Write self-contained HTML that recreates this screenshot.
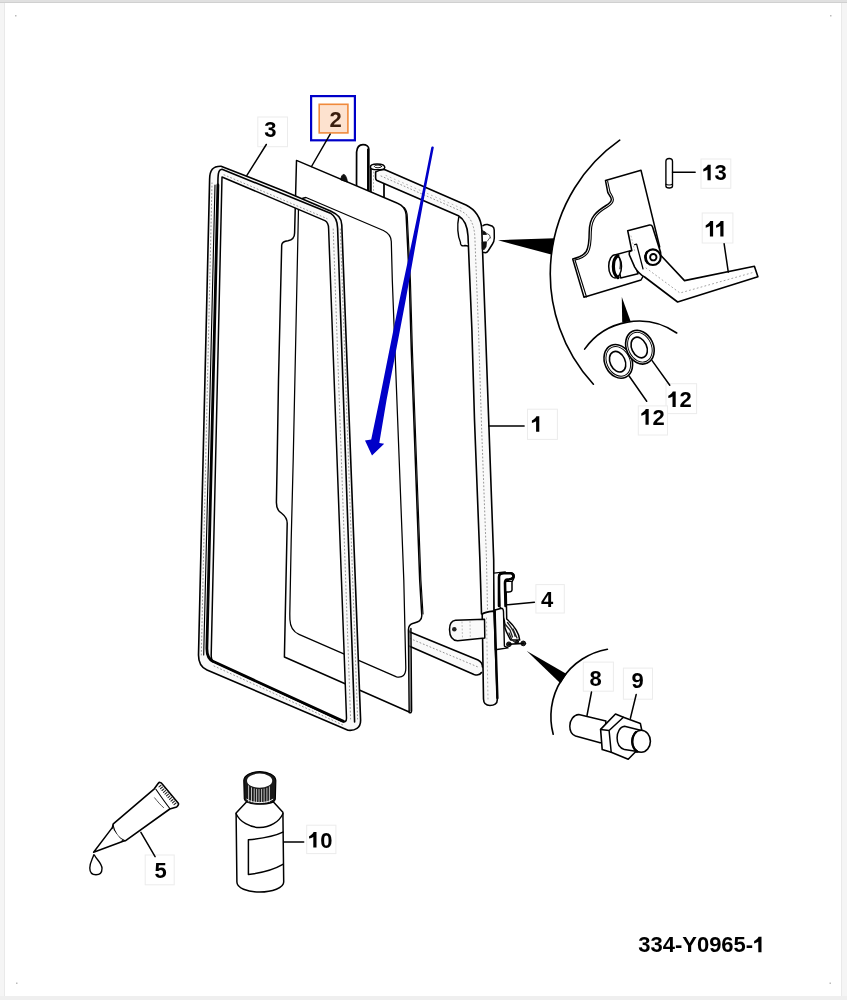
<!DOCTYPE html>
<html><head><meta charset="utf-8">
<style>
html,body{margin:0;padding:0;background:#fff;}
body{width:847px;height:1000px;overflow:hidden;position:relative;font-family:"Liberation Sans",sans-serif;}
svg{position:absolute;left:0;top:0;}
.t{font-family:"Liberation Sans",sans-serif;font-weight:bold;font-size:22px;fill:#000;}
</style></head><body>
<svg width="847" height="1000" viewBox="0 0 847 1000">
<!-- page frame -->
<rect x="0" y="0" width="847" height="1000" fill="#fff"/>
<rect x="0" y="0" width="5" height="1000" fill="#f5f5f5"/>
<rect x="4" y="0" width="1" height="1000" fill="#e9e9e9"/>
<rect x="841" y="0" width="6" height="1000" fill="#f5f5f5"/>
<rect x="841" y="0" width="1" height="1000" fill="#e9e9e9"/>
<rect x="0" y="996" width="847" height="4" fill="#efefef"/>
<rect x="0" y="0" width="847" height="3" fill="#e0e0e0"/>
<rect x="0" y="2" width="847" height="1" fill="#d0d0d0"/>

<!-- ===== LABEL BOXES ===== -->
<g fill="#fff" stroke="#ececec" stroke-width="1">
<rect x="257.8" y="117" width="29.7" height="29.7"/>
<rect x="527.5" y="409.2" width="29.9" height="30.2"/>
<rect x="535.9" y="584.6" width="28.4" height="28.4"/>
<rect x="145.2" y="855" width="29" height="29.8"/>
<rect x="583.3" y="662.1" width="30.1" height="29.1"/>
<rect x="623.4" y="668.1" width="29.1" height="31.1"/>
<rect x="306.7" y="825.2" width="29.2" height="28.4"/>
<rect x="702.2" y="213" width="30.7" height="30"/>
<rect x="701" y="159" width="29.8" height="29.3"/>
<rect x="666" y="383.7" width="30.6" height="29.9"/>
<rect x="638.3" y="405.9" width="29.2" height="29.1"/>
</g>
<rect x="311.1" y="96.1" width="43.8" height="44.2" fill="none" stroke="#0000c8" stroke-width="2.2"/>
<rect x="319.2" y="104.3" width="28.7" height="28.6" fill="#fde2cf" stroke="#f08a3c" stroke-width="1.6"/>
<g fill="#bbb"><rect x="15" y="15" width="1.5" height="1.5"/><rect x="830" y="15" width="1.5" height="1.5"/><rect x="16" y="982.5" width="1.5" height="1.5"/><rect x="829.5" y="982.5" width="1.5" height="1.5"/></g>
<g id="drawing" fill="none" stroke="#000" stroke-width="1.72" stroke-linejoin="round" stroke-linecap="round">
<!-- ===== FRAME 1 (metal) back parts ===== -->
<!-- rod -->
<path d="M356.5,195 L356.6,152 C357,147 359.5,144.6 363,144.6 C366.5,144.6 368.8,146.5 368.8,149 L368.8,195 Z" fill="#fff"/>
<path d="M367.6,149 L367.6,195" stroke-width="1.15"/>
<!-- post -->
<path d="M370.9,167 L370.9,198 L384,198 L384,168" fill="#fff"/>
<path d="M373.5,172 L373.5,196" stroke="#999" stroke-width="0.8" stroke-dasharray="1 2.5"/>
<path d="M370.4,167 C370.4,164.5 373,164 377,164 C381,164 384.8,164.6 384.8,167.5 C384.8,169 383,169.8 377,169.8 C372,169.8 370.4,169 370.4,167 Z" fill="#fff" stroke-width="1.49"/>
<ellipse cx="378" cy="166.4" rx="3.6" ry="1.4" stroke-width="0.92"/>
<!-- top tube + right vertical -->
<path d="M375.6,172 L384.5,169.5 L466,205 C474,209 481,216 481.8,229.5 L485.5,330 L488.9,425.9 L493.7,560 L494,611 L482,614 L479.9,560 L474.5,420 L471.9,330 L468,236 C467.5,226 464,219 458.4,215.7 L377,180.5 C376,180 375.6,179.5 375.6,178 Z" fill="#fafafa" stroke="none"/>
<path d="M381,176 L462,211.5 C470,216 474,224 474.8,236 L478.5,330 L481.5,425 L486.5,560 L487.5,610" stroke="#8a8a8a" stroke-width="0.9" stroke-dasharray="1 2.6" fill="none"/>
<path d="M386,175.5 L463,209" stroke="#aaa" stroke-width="0.8" stroke-dasharray="1 3.5" fill="none"/>
<path d="M384.5,169.5 L466,205 C474,209 481,216 481.8,229.5 L485.5,330 L488.9,425.9 L493.7,560 L494,611" stroke-width="1.61"/>
<path d="M375.6,172 L375.6,178 C375.6,179.5 376,180 377,180.5 L458.4,215.7 C464,219 467.5,226 468,236 L471.9,330 L474.5,420 L479.9,560 L481.5,614" stroke-width="1.61"/>
<path d="M375.6,172 C378,170.5 381,169.8 384.5,169.5" stroke-width="1.38"/>
<!-- hinge piece behind tube -->
<path d="M458.7,217.5 C457,225 457.5,236 460.5,242.5 C460,245 462,246.5 465,245.5 L468,246" fill="#fff" stroke-width="1.38"/>
<!-- hinge bracket right -->
<path d="M483,225.7 C484.5,224.6 486,224.3 487.5,224.5 L492.5,226.3 C493.8,227.3 494.2,228.5 494.2,230 L494.3,238 C494.2,240.5 493.6,242.5 492.5,244 L488.4,250.5 C487.5,251.8 486.5,252.7 485.4,252.8 L483,252.2" fill="#fff" stroke-width="1.5"/>
<path d="M482.2,230.5 L485.3,232 L486.5,234.5 L483,234.5 Z M482.5,242 L486.5,241.8 L486,247 L484,249.8 L482.5,249.5 Z" fill="#111" stroke="#111" stroke-width="0.8"/>
<path d="M486,233 L489.5,235 L490.5,238 M487.5,241 L490,237.5" stroke-width="0.9" stroke="#444"/>
<!-- bottom tube -->
<path d="M405,630 L478,660 C482,662 483,666 482,670 C481,674 478,675.5 474,674.5 L405,646 Z" fill="#fafafa" stroke="none"/>
<path d="M410,638.5 L478,667" stroke="#8a8a8a" stroke-width="0.9" stroke-dasharray="1 2.6" fill="none"/>
<path d="M405,630 L478,660 C481,661.5 482.5,664 482.5,667" stroke-width="1.61"/>
<path d="M405,644.3 L474,674.5 C477,675.5 480,675 481.5,672.5" stroke-width="1.61"/>
<!-- lower vertical piece -->
<path d="M482.2,614 C485,612 490,611.5 494,611 L497.3,699.5 C497.4,704 494,705.5 490,705.5 C486,705.5 483.6,703.5 483.5,699 Z" fill="#fafafa" stroke-width="1.6"/>
<path d="M486.5,618 L488,700" stroke="#999" stroke-width="0.8" stroke-dasharray="1 3"/>
<!-- bracket arm -->
<path d="M484.5,619.2 L455.5,620.3 C451.5,620.8 449.5,624 449.5,629.5 C449.6,636 452,640.5 457.6,640.7 L484.8,637.9 Z" fill="#fafafa" stroke-width="1.5"/>
<circle cx="454.3" cy="629.2" r="2.3" fill="#222" stroke="none"/>
<path d="M462,622 L462.5,638 M470,621.5 L470.3,638" stroke="#aaa" stroke-width="0.8" stroke-dasharray="1 2.5"/>
<!-- latch 4 -->
<path d="M493.8,573.2 L505.3,571.8 L505.5,609 L494.2,610 Z" fill="#fff" stroke-width="1.3"/>
<path d="M498.8,577 C498.8,574 500.5,572.9 503,572.8 L510.7,572.7 C513.5,573 514.6,575 514,577.5 C513.5,579.5 512.3,580.5 512,582 L512,590 C511.8,591.8 510,592.2 508,592.1 L506.2,592 L506.7,619 C509,621 513,624.5 516.1,629.9 C518,633 519.3,636.5 519.7,640 L510.7,640 C509,636.5 506.5,633 505,628 L504.4,620.9 L499.9,606.4 Z" fill="#fff" stroke-width="1.5"/>
<path d="M499,606 L499,577 C499,574.5 501,573.3 504,573.3 L510.5,573.3 C513,573.6 513.8,575.5 513.2,577.3 C512.4,579 510,579.6 507.5,579.6 C505.5,579.7 505,581 505,583 L505.5,606" stroke-width="2.6"/>
<path d="M506.3,581.5 L511.8,581.5" stroke-width="1.2"/>
<path d="M495,610 L501.7,608.2 C503,608.6 503.5,610 503.5,611.8 L504.4,646.1 L508,647.9 L495.4,649.7 Z" fill="#fbfbfb" stroke-width="1.4"/>
<path d="M505,624 L510,630 L512.5,637 M507.5,622.5 C511,627 514,631 515,636 M509,633 L512,640 L516,643 M513,629 L517,638" stroke-width="1.3" stroke="#222"/>
<circle cx="508.9" cy="644.3" r="2.4" fill="#222" stroke-width="0.9"/>
<circle cx="517" cy="641.8" r="1.5" fill="#222" stroke-width="0.9"/>
<circle cx="523.3" cy="643.4" r="2.4" fill="#222" stroke-width="0.9"/>
<path d="M508.9,644.3 L523.3,643.4" stroke-width="1.6"/>
<path d="M494.6,611 L497.4,698" stroke-width="2.4"/>

<!-- ===== SHEET A (outer glass) ===== -->
<path d="M296.5,160.4 L397.5,203.3 Q405.3,206.3 406.1,214.5 L409.3,280 L411.3,350 L419.7,580 L421.8,615.5 C422,621 418,622 413.3,623.3 C409,624.5 408.4,627 408.4,630 L409.2,712 L284.4,657 L287.2,523.2 C287.2,516 282,514 279.2,511.2 C276.8,508.5 276.4,505 276.4,502.4 L277.2,460 L278.5,380 L281.7,245 C282,242 285,241 288,240.7 C292,240 294.6,238 294.6,233 Z" fill="#fff" stroke-width="1.49"/>
<path d="M404.3,207.6 Q407,210.5 407.3,216.5 L410.4,280 L412.4,350 L420.9,580 L423,614" stroke-width="1.15"/>
<path d="M410.9,628.5 L411.6,710.5 C411.6,712.5 410.6,713.3 409.2,712.5" stroke-width="1.5"/>
<path d="M409.7,630 L410.3,711" stroke-width="1" stroke="#555"/>
<!-- small clip on top edge -->
<path d="M340.8,179.6 C341,176.5 342.3,174.3 343.8,174.4 C345.3,174.6 346.8,177.5 347.4,181.6 Z" fill="#111" stroke-width="0.8"/>

<!-- ===== SHEET B (inner glass) ===== -->
<path d="M298.5,206 Q299,198 306,197.5 L383.4,230.5 Q391,234 391.3,241.5 L392.3,280 L394,324.6 L403.8,580 L405.8,668 Q405.8,678.5 396.5,676.8 L299,634.3 C293.5,632 290.2,627.5 289.9,619.5 L289.8,614 L291.2,540 L293.2,460 L298.4,212.4 Z" fill="#fff" stroke-width="1.26"/>

<!-- ===== FRAME 3 (seal) ===== -->
<path fill-rule="evenodd" fill="#f9f9f9" stroke="none" d="M209.6,180 C209.5,170 213,166 221,166.2 L285,191.4 L331,211.2 C338,214.5 341.5,218 341.8,225 L360.6,720 C360.8,728 355,731 348,730.3 L207,670 C201,667.5 198.5,663 198.5,655 Z M222,177 L324.9,220.6 Q328.5,222.5 328.6,228.4 L346.5,718 Q346.6,723 342,721.5 L213.4,661.6 Q211.2,660 211.2,655 Z"/>
<g stroke="#8a8a8a" stroke-width="0.9" stroke-dasharray="1 2.6" fill="none">
<path d="M201.3,655 L212,183"/>
<path d="M224,174.8 L327,218.6"/>
<path d="M333.2,229 L350.6,719"/>
<path d="M340.3,229 L357.6,719"/>
<path d="M214,666 L344,725.5"/>
</g>
<path d="M209.6,180 C209.5,170 213,166 221,166.2 L285,191.4 L331,211.2 C338,214.5 341.5,218 341.8,225 L360.6,720 C360.8,728 355,731 348,730.3 L207,670 C201,667.5 198.5,663 198.5,655 Z" stroke-width="1.61"/>
<path d="M222,177 L324.9,220.6 Q328.5,222.5 328.6,228.4 L346.5,718 Q346.6,723 342,721.5 L213.4,661.6 Q211.2,660 211.2,655 Z" stroke-width="1.49"/>

<!-- middle lines -->
<path d="M217.9,185 C217.9,175 218,169.5 222,169.2 L331,213.6 C335,216 337.3,220 337.6,228 L354.6,722" stroke-width="1.6"/>
<path d="M217.9,185 L206.9,648 C206.8,655 208.5,659.5 213.4,661.6 L343.5,721.2" stroke-width="2.8"/>
<path d="M215,185 L203.7,655" stroke-width="1.15"/>

<!-- ===== BLUE ARROW ===== -->
<path d="M431.2,147.8 C431.4,146.2 433.6,146.2 433.8,147.6 L425.5,190 L416.4,240 L405.7,300 L400,330 L386.55,400 L379.3,442.9 L384.2,443.8 L372,455.6 L365,440.4 L371.2,439.6 L379.45,400 L393.4,330 L399.5,300 L412.3,240 L422.8,190 Z" fill="#0000c8" stroke="none"/>

<!-- ===== LEADERS ===== -->
<path d="M266.3,144.5 L246.9,175.4" stroke-width="1.49"/>
<path d="M330.2,134.2 L311.5,166.5" stroke-width="1.49"/>
<path d="M488.9,425.9 L524.1,425.9" stroke-width="1.49"/>
<path d="M507.5,604.8 L534.4,602.2" stroke-width="1.49"/>

<!-- ===== TOP-RIGHT DETAIL ===== -->
<path d="M619.7,140.2 A163.1,163.1 0 0 0 593.4,384.2" stroke-width="1.61"/>
<path d="M498,240.2 L554.4,238.3 L551.2,254.6 Z" fill="#000" stroke="none"/>
<!-- plate -->
<path d="M605.5,180.5 L641,170.2 L659.7,247 L641,280 L584,297.3 L572.7,259 C578,257.8 583,256.5 586.2,251.5 C588.8,247 589.2,240 589.2,232 C589.3,224.5 591,219 594.3,215 C597.5,211 602,208 606,205.5 C609.5,203.5 611.3,202 611.3,199.5 C611.2,196.5 608.5,194.5 607.8,192.6 Z" fill="#fff" stroke-width="1.5"/>
<path d="M607.6,181 L610,192 C611,194 613.4,196.5 613.4,199.8 C613.3,203 611,205 607.2,207.3 C603,209.8 599,212.5 596.2,216 C593.2,219.8 591.4,225 591.3,232 C591.3,240 590.9,247.5 588.3,252.3 C585.5,256.8 580.5,258.8 575,260" stroke-width="1.1"/>
<path d="M575,260 L586.5,297" stroke-width="1.1"/>
<!-- bushing -->
<path d="M615.7,254.7 L630.6,250.6 L638,273.7 L620.7,277.9 Z" fill="#fff" stroke-width="1.5"/>
<ellipse cx="615.1" cy="266.3" rx="6.4" ry="11.6" fill="#fff" stroke-width="1.5"/>
<path d="M617.8,255.6 C614.8,257.5 613.4,261.5 613.4,266.5 C613.4,271.5 614.8,275.5 618,277.6" stroke-width="3.2"/>
<path d="M618.5,256.5 C620,258.5 620.4,262 620.3,265.5 L620,268.8" stroke-width="1.1"/>
<!-- handle 11 -->
<path d="M627.7,230.7 L649.6,225 C651,224.8 652,225.5 652.5,226.8 L659.5,248.9 C660.5,251.5 660.9,253.5 660.7,255.3 L684.5,280.6 L754.4,266.3 L757.9,276.7 L677.6,302 L644.6,277 C641,275 637,271 634.7,267.1 L629.3,254.7 L629.3,251.8 L631.8,250.6 Z" fill="#fff" stroke-width="1.6"/>
<path d="M634.7,244.6 L636.6,244.2 L643,268.8" stroke-width="1.3"/>
<path d="M646,268 L680,293 L753,272.5" stroke="#999" stroke-width="0.9" stroke-dasharray="1 3" fill="none"/>
<path d="M631,236 L635,252" stroke="#aaa" stroke-width="0.8" stroke-dasharray="1 2.5" fill="none"/>
<circle cx="652.9" cy="257.2" r="7.8" fill="#fff" stroke-width="2.1"/>
<path d="M647,252 C645.2,254.5 645.3,259.5 647.5,262.5" stroke-width="2.2"/>
<circle cx="653.3" cy="257.2" r="3.2" stroke-width="1.9"/>
<path d="M724.1,243.7 L728.3,272.1" stroke-width="1.49"/>
<!-- pin 13 -->
<path d="M665.9,186 L665.9,161.5 C665.9,159.3 667.5,158.5 669.2,158.5 C670.9,158.5 672.5,159.3 672.5,161.5 L672.5,186 C672.5,187.5 670.9,188 669.2,188 C667.5,188 665.9,187.5 665.9,186 Z" fill="#fff" stroke-width="1.38"/>
<path d="M666,184.2 C666.5,185.3 671.5,185.3 672.4,184.2" stroke-width="1.15"/>
<path d="M672.5,172.3 L695.2,172.3" stroke-width="1.38"/>
<!-- small pointer + arc -->
<path d="M621.8,297 L622.2,322.4 L630.6,321.3 Z" fill="#000" stroke="none"/>
<path d="M584.6,349.1 A66.4,66.4 0 0 1 676.7,333" stroke-width="1.61"/>
<!-- washers -->
<ellipse cx="618.3" cy="361.4" rx="13.5" ry="17.5" transform="rotate(-25 618.3 361.4)" fill="#fff" stroke-width="1.61"/>
<ellipse cx="618.3" cy="361.4" rx="11.5" ry="15.5" transform="rotate(-25 618.3 361.4)" stroke-width="0.92"/>
<ellipse cx="617.6" cy="361.7" rx="7.5" ry="10.8" transform="rotate(-25 617.6 361.7)" stroke-width="1.61"/>
<ellipse cx="639.9" cy="347.2" rx="13.5" ry="17.5" transform="rotate(-25 639.9 347.2)" fill="#fff" stroke-width="1.61"/>
<ellipse cx="639.9" cy="347.2" rx="11.5" ry="15.5" transform="rotate(-25 639.9 347.2)" stroke-width="0.92"/>
<ellipse cx="639.2" cy="347.5" rx="7.5" ry="10.8" transform="rotate(-25 639.2 347.5)" stroke-width="1.61"/>
<path d="M629.1,376 L646.7,401.3" stroke-width="1.49"/>
<path d="M652.1,360.6 L669.8,385.2" stroke-width="1.49"/>

<!-- ===== BOTTOM DETAIL ===== -->
<path d="M526.8,651 L566.6,674 L560.6,683.5 Z" fill="#000" stroke="none"/>
<path d="M607.4,649.2 A68.4,68.4 0 0 0 553.2,734.2" stroke-width="1.61"/>
<!-- bolt 8 -->
<path d="M578.8,714.6 L605.9,721 L604,742.7 L600.1,742.7 L575.5,736 C571.5,734.5 569.8,730.5 569.8,726.3 C569.8,720 573.5,715 578.8,714.6 Z" fill="#fff" stroke-width="1.5"/>
<!-- nut 9 -->
<path d="M600.6,729.4 L615.5,714 L623.4,717.2 L640.4,723.6 L641.7,729.8 L642,750 L635.1,752.3 L628.2,759.2 L611.2,752.3 L602.2,749.6 Z" fill="#fff" stroke-width="1.6"/>
<path d="M600.6,729.4 L609.1,730.5 L611.2,752.3 M609.1,730.5 L623.4,717.2" stroke-width="1.5"/>
<path d="M624.5,726.3 L641.5,730.5 L639,751.8 L624.5,749.6 C619.5,748 617.1,743 617.1,738 C617.1,732 620,727 624.5,726.3 Z" fill="#fff" stroke-width="1.5"/>
<ellipse cx="641.2" cy="741.2" rx="9.2" ry="11" fill="#fff" stroke-width="1.6"/>
<path d="M636,732 C633,735 632.3,739 632.3,742 C632.5,746 634,749.5 637,751.5" stroke-width="2.4"/>
<path d="M591.5,692 L587,715.5" stroke-width="1.49"/>
<path d="M636.2,694.5 L630.4,718.3" stroke-width="1.49"/>

<!-- ===== TUBE 5 ===== -->
<path d="M154.3,788.8 L158.1,783.5 C158.8,782.6 159.6,782.3 160.2,782.5 C160.9,782.7 161.4,783 161.8,783.5 L178.3,803.2 C178.8,804.2 178.5,805.5 176.7,806.9 L169.8,809 L125.3,840.8 C121,842 117,839 114,835 C112,832 112,828 113.3,823.8 Z" fill="#fff" stroke-width="1.6"/>
<path d="M155.9,789.3 C160.5,796 165,802.5 169.8,808.5" stroke-width="1.1"/>
<path d="M159.0,786.9 L161.0,785.3 M160.5,788.7 L162.5,787.0 M162.0,790.5 L164.0,788.8 M163.5,792.3 L165.5,790.6 M165.0,794.1 L167.0,792.4 M166.5,795.8 L168.5,794.1 M168.0,797.6 L170.0,795.9 M169.5,799.4 L171.5,797.7 M171.0,801.2 L173.0,799.5 M172.5,802.9 L174.5,801.2 M174.0,804.7 L176.0,803.0" stroke-width="1.1" stroke="#222"/>
<path d="M154.6,797.8 C157.5,801.5 160.5,805 163.6,807.6" stroke-width="0.9" stroke="#444"/>
<path d="M113,825 C114.5,832 118.5,838 124.5,840.5" stroke-width="1.15"/>
<path d="M111.9,828.1 L93.6,852.3 L122.5,841.5" fill="#fff" stroke-width="1.49"/>
<path d="M93.8,854.8 C92.5,859 89.8,862.5 89.8,868 C89.8,872.5 92.5,874.8 96,874.8 C99.5,874.8 102,872.5 102,868.5 C102,863.5 97,860 94.5,855.2 Z" fill="#fff" stroke-width="1.38"/>
<path d="M140.9,832.3 L155.1,856.6" stroke-width="1.49"/>

<!-- ===== BOTTLE 10 ===== -->
<path d="M236.1,813 L246.9,801.4 L273,801.4 L282.9,812.2 L283.7,882 C283.7,888 272,892 259.8,892 C247,892 236.9,888 236.9,882 Z" fill="#fff" stroke-width="1.49"/>
<path d="M236.1,813.7 C240,822 250,827.5 259.6,827.5 C270,827.5 279,822 282.9,813.7" stroke-width="1.38"/>
<path d="M248.4,839.8 C262,838.5 274,836.5 282.9,832.1 M248.4,839.8 L248.4,874.4 C262,873 274,869.5 282.9,864.4" stroke-width="1.49"/>
<path d="M243.8,780.5 L244.3,799 C245,802.5 252,804.2 259.8,804.2 C267.5,804.2 274.5,802.5 275.3,799 L275.8,780.5 C275.8,775.5 268.5,771.6 259.8,771.6 C251,771.6 243.8,775.5 243.8,780.5 Z" fill="#1a1a1a" stroke-width="1.2"/>
<path d="M248.6,785.8 L248.6,801.3 M251.5,787.8 L251.5,801.9 M254.2,788.8 L254.2,802.3 M256.6,789.3 L256.6,802.5 M259.0,789.5 L259.0,802.6 M261.6,789.4 L261.6,802.6 M264.1,789.0 L264.1,802.4 M266.9,788.2 L266.9,802.1 M269.4,786.8 L269.4,801.7" stroke="#e8e8e8" stroke-width="0.8"/>
<ellipse cx="259.6" cy="780.7" rx="12.6" ry="7.1" fill="#fff" stroke="none"/>
<path d="M246.8,799.3 C250,801.6 255,802.6 259.8,802.6 C264.8,802.6 269.5,801.6 272.8,799.3" stroke="#f4f4f4" stroke-width="1"/>
<path d="M283.7,842.1 L303.7,842.1" stroke-width="1.49"/>
</g>
<defs><path id="one" d="M1.1,-11.3 C2.9,-12.2 4.6,-13.5 5.6,-15.6 L8.5,-15.6 L8.5,0 L5.3,0 L5.3,-10.6 C4.1,-9.8 2.6,-9.2 1.1,-8.9 Z"/></defs>
<g class="t" style="will-change:transform">
<text x="264.3" y="137">3</text>
<text x="329.6" y="127.4" fill="#3a1e0e">2</text>
<use href="#one" x="530.8" y="431.8"/>
<text x="540.9" y="606.8">4</text>
<text x="154.4" y="877.7">5</text>
<text x="589.6" y="686">8</text>
<text x="631.5" y="688.2">9</text>
<use href="#one" x="308" y="847.5"/><text x="320.2" y="847.5">0</text>
<use href="#one" x="704.6" y="236.6"/><use href="#one" x="715" y="236.6"/>
<use href="#one" x="702.2" y="180.3"/><text x="714.4" y="180.3">3</text>
<use href="#one" x="667.2" y="407"/><text x="679.4" y="407">2</text>
<use href="#one" x="640.2" y="424.7"/><text x="652.4" y="424.7">2</text>
<text x="638.2" y="952.3">334-Y0965-</text>
<use href="#one" x="753" y="952.3"/>
</g>

</svg>
</body></html>
